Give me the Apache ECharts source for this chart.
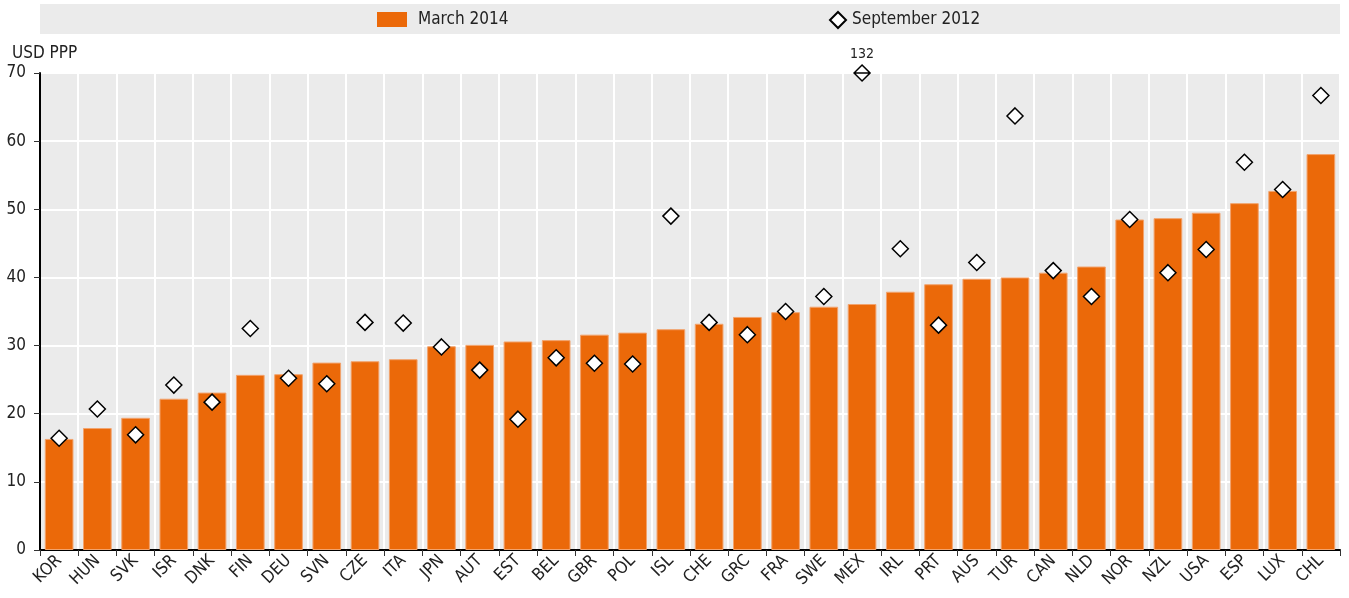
<!DOCTYPE html>
<html>
<head>
<meta charset="utf-8">
<script src="https://cdn.jsdelivr.net/npm/echarts@6/dist/echarts.min.js"></script>
<style>
html,body{margin:0;padding:0;background:#fff;}
#container{width:1349px;height:598px;}
</style>
</head>
<body>
<div id="container"></div>
<script>
var countries = ['KOR','HUN','SVK','ISR','DNK','FIN','DEU','SVN','CZE','ITA','JPN','AUT','EST','BEL','GBR','POL','ISL','CHE','GRC','FRA','SWE','MEX','IRL','PRT','AUS','TUR','CAN','NLD','NOR','NZL','USA','ESP','LUX','CHL'];
var march2014 = [16.3,17.9,19.4,22.2,23.1,25.7,25.8,27.5,27.7,28.0,29.9,30.1,30.6,30.8,31.6,31.9,32.4,33.2,34.2,34.9,35.7,36.1,37.9,39.0,39.8,40.0,40.7,41.6,48.5,48.7,49.5,50.9,52.7,58.1];
var sep2012 = [16.4,20.7,16.9,24.2,21.7,32.5,25.2,24.4,33.4,33.3,29.8,26.4,19.2,28.2,27.4,27.3,49.0,33.4,31.6,35.0,37.2,132,44.2,33.0,42.2,63.7,41.0,37.2,48.5,40.7,44.1,56.9,52.9,66.7];
var yTicks = [0,10,20,30,40,50,60,70];

var font = '"Liberation Sans Narrow","DejaVu Sans Condensed","Arial Narrow",sans-serif';
var yMax = yTicks[yTicks.length - 1];

// points above the axis are pinned to the top with a crossed marker and a value label
var sepData = sep2012.map(function (v) {
    if (v > yMax) {
        return {
            value: yMax,
            orig: v,
            symbol: 'path://M0,-1L1,0L0,1L-1,0Z M-1,0L1,0',
            label: {
                show: true, position: 'top', distance: 3,
                formatter: function (p) { return p.data.orig; },
                fontFamily: font, fontSize: 14, color: '#222'
            }
        };
    }
    return v;
});

var chart = echarts.init(document.getElementById('container'));
chart.setOption({
    animation: false,
    textStyle: { fontFamily: font },
    graphic: [
        { type: 'rect', left: 40, top: 4, shape: { width: 1300, height: 30 }, style: { fill: '#ebebeb' }, z: -1 }
    ],
    title: {
        text: 'USD PPP', left: 7, top: 40,
        textStyle: { fontFamily: font, fontSize: 17, fontWeight: 'normal', color: '#222' }
    },
    legend: [{
        data: ['March 2014'], left: 377, top: 11, padding: 0, itemWidth: 30, itemHeight: 15,
        icon: 'rect', itemStyle: { borderWidth: 0 },
        textStyle: { fontFamily: font, fontSize: 17, color: '#222', padding: [0, 0, 0, 6] }
    }, {
        data: ['September 2012'], left: 829, top: 11, padding: 0, itemWidth: 16, itemHeight: 16,
        textStyle: { fontFamily: font, fontSize: 17, color: '#222', padding: [0, 0, 0, 1] }
    }],
    grid: {
        left: 40, right: 9, top: 73, bottom: 48,
        show: true, backgroundColor: '#ebebeb', borderWidth: 0
    },
    xAxis: {
        type: 'category',
        data: countries,
        axisLine: { lineStyle: { color: '#000', width: 2 } },
        axisTick: { show: true, length: 6, lineStyle: { color: '#333' } },
        axisLabel: { rotate: 45, fontSize: 17, color: '#222', margin: 8, interval: 0 },
        splitLine: { show: true, lineStyle: { color: '#fff', width: 2 } }
    },
    yAxis: {
        type: 'value', min: 0, max: yMax, interval: 10,
        axisLine: { show: true, lineStyle: { color: '#000', width: 2 } },
        axisTick: { show: true, length: 6, lineStyle: { color: '#333' } },
        axisLabel: { fontSize: 17, color: '#222', margin: 14 },
        splitLine: { lineStyle: { color: '#fff', width: 2 } }
    },
    series: [{
        name: 'March 2014',
        type: 'bar',
        data: march2014,
        barWidth: '75%',
        itemStyle: { color: '#eb6909', borderColor: '#f2a36d', borderWidth: 1 }
    }, {
        name: 'September 2012',
        type: 'scatter',
        data: sepData,
        symbol: 'diamond',
        symbolSize: [16, 16],
        itemStyle: { color: '#fff', borderColor: '#000', borderWidth: 1.5, opacity: 1 },
        z: 5
    }]
});
</script>
</body>
</html>
